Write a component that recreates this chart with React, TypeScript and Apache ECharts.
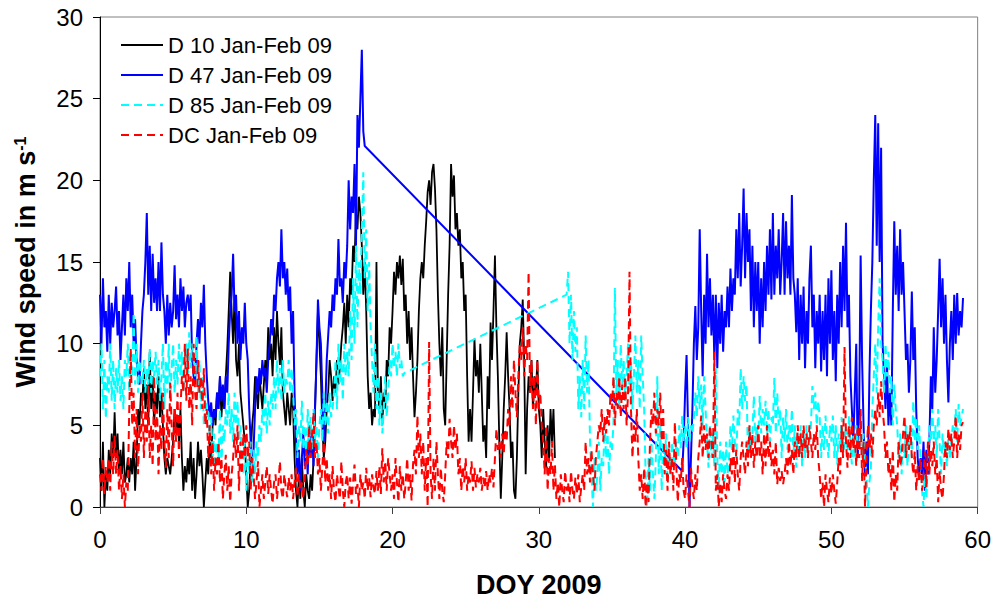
import React, { useEffect, useRef } from "react";
import * as echarts from "echarts";

// Sampling step of the hand-read series (days)
const STEP = 0.1;

const seriesNames = ["D 10 Jan-Feb 09", "D 47 Jan-Feb 09", "D 85 Jan-Feb 09", "DC Jan-Feb 09"];
const xAxisTitle = "DOY 2009";
const yAxisTitle = "Wind speed in m s";
const yAxisSup = "-1";

// D 10 : day 0.0 .. 31.1
const blackStart = 0;
const black = [
  3, 1, 4, 0, 2, 1, 3.5, 2, 4.5, 3,
  5.8, 3, 4.5, 2, 3.5, 2, 4, 1.5, 2, 3,
  1.5, 3, 2, 4, 1, 3, 6, 5, 7, 6.5,
  8.5, 6, 7.5, 5, 9.5, 6, 8, 5, 7, 6,
  8, 5.5, 7, 5, 3, 2, 3, 2.5, 2, 3,
  4, 6, 4.5, 5.5, 4, 6, 3, 1, 2.5, 1.5,
  3, 2, 4, 1, 3, 0.5, 2, 4, 2.5, 3.5,
  2, 0, 1.5, 3, 2, 4, 3, 5, 6, 5,
  7, 6, 8, 5.5, 7, 6, 8, 9.7, 12, 14.4,
  12, 10, 13, 9, 8, 10, 7, 6, 5, 4,
  2, 0, 1, 3, 5, 6, 8, 7, 6, 8,
  7, 6, 7.5, 9, 8, 11, 9, 10, 8, 11,
  9, 12, 10, 8.7, 11, 7, 6, 5, 7, 6,
  5, 7, 6, 3, 1, 0, 2, 0.5, 3, 1,
  0, 2, 1, 0.5, 2, 1, 3, 6, 9, 12,
  10, 8, 5, 3, 4, 6, 7, 9, 8, 6.5,
  8, 7, 9, 7.5, 8.5, 10, 11, 12.5, 10, 13,
  11, 14, 13, 16, 15, 18, 17, 19, 18, 16,
  13, 15, 12, 8, 6, 7, 5, 6, 5.5, 15,
  7, 6, 8, 5, 7, 6, 9, 8, 11, 10,
  12, 14.4, 13, 15, 14, 15.4, 13.6, 15.2, 12, 13,
  10, 12, 9, 11, 8, 5.5, 7, 9, 12, 14,
  15, 14, 16, 17.5, 19.3, 20, 18.5, 20.5, 21, 19.5,
  17, 13, 10, 8, 11, 6, 5, 9, 13, 16,
  21, 19, 20.3, 17, 18, 16, 17, 14, 15, 12,
  13, 8, 4, 6, 4, 7, 10.3, 8, 9, 7,
  10, 7, 4, 5, 3, 8, 6, 11.3, 9, 12,
  15.4, 11, 8, 4, 0.5, 3, 6, 8, 10.7, 8,
  6, 3, 4, 1, 0.5, 3, 7, 10, 11, 12.7,
  9, 2, 6, 8, 7, 9, 6, 8, 7, 9,
  6, 5, 3, 6, 4, 2.4, 5, 3, 6, 4,
  6, 3,
];

// D 47 : day 0.0 .. 18.1, then day 39.8 .. 59.0
const blueStartA = 0;
const blueA = [
  13, 10, 14, 11, 12, 9.5, 13, 10, 12.5, 11,
  12, 13.5, 10.5, 12, 9, 11, 13, 10.5, 14, 12,
  15, 11, 13, 10, 11.5, 9, 8, 7.5, 10, 12,
  13, 15, 18, 13, 16, 12, 15.5, 12.5, 14, 12,
  15, 12, 16.2, 13, 12, 10, 13, 10.5, 12.5, 11,
  12, 14.8, 11.5, 13, 11, 14, 12, 13.5, 11, 12.5,
  13, 12, 13, 9, 8, 7.5, 10, 11.5, 10, 12.5,
  11, 13.6, 10, 8, 6.5, 5.5, 6.4, 5, 6, 5.5,
  7, 6, 8, 6.5, 7.5, 6, 8, 7, 10, 12,
  13, 15.5, 12, 13, 10, 12, 9, 11, 10, 12.5,
  10, 9, 6, 4, 2, 3.5, 6, 8, 7, 8.5,
  7.5, 9, 8, 8.5, 7, 9, 10, 11.5, 10.5, 13,
  12, 14, 15, 13.5, 17, 14, 15, 13, 14.6, 12,
  13.5, 10, 12, 7, 4, 2, 3.5, 1, 3, 4.5,
  2.5, 4, 2, 5, 3, 4.5, 2.5, 6, 9, 12.7,
  11, 10, 7, 4, 6, 9, 10.5, 12, 11, 13,
  12, 14, 13, 16.4, 13.5, 14, 12.5, 15, 14, 16,
  20, 17, 19, 18, 21, 16, 24, 22, 25, 28,
  23, 22.1,
];
const blueStartB = 39.8;
const blueB = [
  2.2, 4,
  7, 9.3, 5, 0, 3, 6, 10, 12.3, 9, 11,
  17, 12, 8, 13, 10, 15.5, 11, 14, 10.5, 13,
  9, 13, 8.5, 12.5, 10, 13, 9.5, 12, 11, 13.5,
  11, 14.6, 12, 14, 13, 17, 14, 18, 13.5, 16,
  19.5, 14, 18, 15, 17, 12, 16, 11, 15, 12,
  15, 10, 14, 11, 15, 12, 16, 13, 17, 12.7,
  18, 13, 16, 14, 17, 13, 15, 18, 13, 17.5,
  14, 16, 13, 19.1, 14, 13, 10.7, 14, 9, 13,
  10, 13.5, 8.5, 12, 10, 14, 16, 11, 13, 8.5,
  12, 10, 13, 8.3, 12, 9, 13, 8, 14, 10,
  14.5, 9, 12, 7.7, 13, 10, 15, 11, 16, 12,
  17.4, 11, 13, 8, 6, 4, 7, 10, 3, 6,
  15.4, 9, 5, 2, 4, 2, 8, 12, 15, 20,
  24, 16, 23.5, 15, 22, 10, 8, 6, 9, 5,
  7, 5, 12, 17.5, 13, 16, 12, 17, 13, 15,
  12, 9, 10, 7, 9, 13.2, 9, 11, 6, 3,
  2, 3, 2, 4, 1, 3.5, 2, 4, 8, 6,
  11, 7, 9, 12, 15.2, 11, 14, 10, 13, 9,
  6.4, 10, 12, 9, 13, 10, 13.1, 10.5, 12, 11,
  12.8,
];

// D 85 : day 0.0 .. 20.8, then day 31.9 .. 59.0
const cyanStartA = 0;
const cyanA = [
  8, 10, 6, 9, 5.4, 8, 7, 10, 6.5, 9,
  6, 8.5, 7, 9, 6.5, 8, 6, 9, 8, 10,
  7, 9.5, 8, 11.9, 7.5, 10, 7, 9, 8, 7.5,
  9, 7, 8.5, 7.5, 9.7, 7, 9, 8, 9.5, 7.5,
  9, 6.5, 8, 10, 6, 9, 7, 10, 6.5, 8.5,
  10, 7, 9, 7.5, 10, 8, 9.5, 7, 9, 10,
  8, 10.7, 8.5, 10, 9, 8, 10.5, 7, 9, 6,
  8, 5, 7, 5.5, 6, 4, 5.5, 3, 4.5, 2,
  4, 3, 6, 2.5, 5, 4, 6, 5, 7, 4.5,
  6, 4, 7, 5, 6.5, 4, 5, 3, 2, 4,
  1, 3, 2, 4, 1.5, 3.5, 2, 4, 3, 5,
  4, 6, 5, 7, 4.5, 6.5, 5, 7, 6, 8,
  6, 9, 7, 8.5, 6.5, 9, 7, 8, 7.5, 9,
  7, 8.5, 7, 5, 6, 3, 5, 4, 6.5, 3.5,
  5, 3, 6, 4, 5.5, 3.5, 6, 4, 5, 3,
  5, 6, 4, 7, 5, 6.5, 4.5, 7, 5.5, 6,
  7, 9, 6, 10, 7.5, 9, 6.5, 10, 8, 9.5,
  8, 12, 9, 14, 10, 16, 11, 15, 13, 17,
  20.5, 14, 17, 12, 15, 11, 9, 7, 10, 6,
  8, 5, 7, 4.5, 6, 8, 5.5, 7, 9, 8,
  10, 8.5, 9.5, 8, 10, 8.5, 9, 8, 8.2,
];
const cyanStartB = 31.9;
const cyanB = [
  13,
  14.4, 10, 13, 9, 12, 9.5, 11, 6, 8, 5.5,
  9, 6, 10.5, 7, 9, 4, 2, 0, 3, 1,
  2, 4, 1, 3, 2.5, 5, 3, 4.5, 2, 4,
  3.5, 5, 13.4, 7, 9, 6, 10, 7.5, 9, 6.5,
  8, 10, 7, 9, 6, 8, 10.5, 7, 9, 6,
  10.5, 8, 6, 2, 0, 3, 1, 4, 2, 0.5,
  3, 8, 2, 5, 1, 4, 2.5, 4.5, 1.5, 3.5,
  2, 4, 3, 2.5, 4, 3, 5, 3.6, 5.6, 4,
  5, 3.6, 5.5, 4, 5, 4.5, 5.5, 7, 5.5, 8,
  6, 7.5, 5, 8, 6, 4, 2.4, 5, 3, 4.5,
  2.5, 8.5, 3, 1, 4, 2, 3.5, 1.5, 4, 2,
  3, 5, 3.5, 5.6, 4, 3, 6, 5, 8.5, 6,
  8, 6.5, 7.5, 3, 5, 3.5, 4.5, 6.8, 4, 5,
  4, 6.8, 4.5, 6, 5, 6.5, 4.5, 6, 4, 5.5,
  5, 7.9, 4.5, 7, 5, 6, 3, 5.5, 4, 6,
  3.5, 5, 4, 6, 3, 5, 2.4, 4.5, 3, 5,
  2.5, 4.5, 3, 5, 3.5, 4, 5, 7.4, 6, 7,
  5, 6.5, 5.5, 3, 5, 3.5, 5.6, 4, 3, 5,
  4, 5.6, 3, 5, 2.6, 4.5, 3.5, 5.5, 3, 4,
  5, 3, 5.6, 4, 2.6, 4.5, 3, 5, 4, 3.5,
  5, 3, 4.5, 3, 2, 0, 1.5, 2.4, 6, 8,
  10, 7, 11, 14, 10, 9, 7, 10, 8, 9.5,
  7, 8, 5, 7.5, 6, 5, 3, 4.5, 2, 4,
  3, 5, 2.5, 4, 5, 3, 6.5, 4, 5.5, 3.5,
  5, 3, 1, 0, 2, 0.5, 3, 5, 4, 6,
  4, 5, 3, 6, 4, 2, 4.5, 3, 4, 2.5,
  4.5, 3, 4, 5, 4.5, 6, 4, 6.3, 5, 5.5,
  6,
];

// DC : day 0.0 .. 59.0
const redStart = 0;
const red = [
  2, 1, 3, 0.8, 2.5, 1.5, 3, 1, 4, 2,
  4.4, 2, 3.5, 1, 2.5, 0.5, 2, 0, 1.5, 1,
  6, 9.7, 5, 7, 3, 6, 2, 5, 4, 7,
  3, 6, 4, 7.4, 3, 5, 2.5, 8, 4, 6,
  2, 5, 3.5, 7, 4, 2.4, 6, 3, 7.6, 5,
  2.5, 6, 4, 7, 3, 6, 8, 7, 10, 6.5,
  9.7, 6, 8, 5, 10, 7, 6, 9, 7, 8,
  6, 8.5, 5, 6, 3, 5, 2, 4, 1, 3,
  2, 4, 1.5, 3, 0.5, 2, 3.2, 1, 2.5, 0.3,
  2, 3, 4.5, 3, 5, 1, 4, 2, 4.5, 3,
  5, 3, 4, 1, 3, 2, 0.5, 1.5, 2.8, 0,
  1, 2, 0.5, 1.5, 2.5, 0.8, 2, 1, 0.2, 1.5,
  2, 0.5, 1.5, 2.8, 1, 0.5, 2, 1.2, 0.6, 1.8,
  1, 2, 0.5, 1.5, 2.4, 0.6, 2, 1, 1.5, 0.5,
  2, 3.5, 2.5, 5, 3, 4.5, 5.8, 3, 4, 2,
  3, 1, 2.5, 4, 1.5, 3, 1, 2, 0.5, 2.5,
  1, 0.3, 2, 1.2, 0.5, 2.8, 1, 0, 1.5, 2,
  0.5, 1.8, 0.2, 1.5, 2.6, 0.8, 1.4, 0, 2, 1,
  1.5, 0.5, 2.4, 1, 1.8, 0.6, 2, 1.2, 0.8, 2.2,
  1, 2.5, 0.8, 3.6, 1.5, 2.8, 1, 3, 2, 1,
  2, 0.5, 3, 1.5, 0.3, 2.5, 1, 2, 0.5, 1.5,
  3, 1, 2, 0.4, 2.6, 3.5, 2, 5.6, 3, 4.5,
  2, 4, 1, 3, 0, 10.1, 2, 0.5, 3, 1,
  4, 2, 0.5, 2.4, 1, 0.3, 2, 4, 3, 5.4,
  4, 3, 5, 3.5, 4.5, 2, 3, 1, 2.5, 1.5,
  3, 1, 2, 1.5, 2.8, 1, 2.4, 1.2, 2, 1.5,
  2.4, 1, 1.8, 1.2, 2.2, 1, 2, 1.5, 2.4, 1.2,
  3, 4.8, 3.5, 4, 3, 4.5, 3.2, 4.8, 4, 6,
  5, 8, 6, 9, 7, 5.5, 8, 10, 9, 11,
  8, 10, 9, 14.4, 7, 9, 6, 8, 5, 9,
  6, 7, 5, 4, 2, 5, 1, 3, 2, 4,
  1, 2.6, 0.5, 1.5, 0, 2, 1, 0.3, 2.2, 1,
  1.5, 0.3, 2.2, 1, 0.5, 1.8, 0.8, 2, 0.3, 1.2,
  2, 1, 4, 2, 3, 1.5, 3.5, 2, 1, 3,
  4, 5, 4.5, 6, 4, 5.5, 4.5, 6, 5, 7,
  6, 8, 5, 7, 6, 8, 5.5, 7.5, 6, 8,
  5, 7, 14.4, 6, 3, 5, 4, 6, 3, 1,
  2, 0.5, 2.4, 0, 1.5, 0.3, 4, 6, 5, 7,
  4.5, 6, 5, 7, 4, 6, 2, 3.5, 1, 4,
  2, 3, 1, 5.2, 2.5, 0.3, 2, 1.5, 3, 1,
  0.5, 2, 1, 0, 2.4, 1.2, 0.5, 2, 1, 3,
  4, 5.6, 3, 5, 3.5, 4.5, 3, 5, 4, 3,
  9.5, 1, 2, 0, 1.5, 0.3, 2, 1, 0.5, 2,
  1, 3, 2, 4, 1.5, 3.5, 2, 1, 3, 4,
  3, 2, 4, 2.5, 5, 3, 4.5, 2.4, 4, 3,
  5, 3, 4, 2, 4.5, 2.5, 5, 3, 4, 2.5,
  3.5, 2, 4, 1.4, 2.4, 1.6, 2.2, 1.4, 2, 3,
  2, 4, 2.5, 3.5, 2, 4, 3, 5, 3, 4.5,
  3, 5, 3.5, 4.5, 3, 5, 4, 3, 4.5, 3.5,
  5, 3, 2, 0.5, 1.5, 0, 2, 1, 0.3, 1.8,
  0.8, 2, 1, 0.2, 1.5, 3, 2, 5, 3, 9.8,
  4, 2.4, 5, 3, 5.5, 3.5, 4.5, 2.5, 5, 3,
  6, 1.6, 4, 0, 3, 5, 3.5, 4.5, 3, 5,
  6, 5, 7, 5.5, 7.7, 6, 5, 3, 4, 2,
  3, 1, 3.5, 0.3, 2, 1, 4, 2.5, 3, 4.5,
  5.6, 3, 4.5, 3.5, 5, 3, 2, 3.4, 1, 2.5,
  1.5, 3, 1, 2, 3.4, 1.2, 4, 2, 3.5, 2.5,
  4, 2, 3, 0.3, 2.2, 1, 0.5, 2, 4, 3,
  4.8, 3.5, 4.5, 3, 4, 5.6, 3, 4.5, 3.5, 5,
  5.2,
];

const xMin = 0, xMax = 60, xInterval = 10;
const yMin = 0, yMax = 30, yInterval = 5;

function toPairs(start: number, values: number[]): [number, number][] {
  return values.map((v, i) => [Math.round((start + i * STEP) * 100) / 100, v]);
}

const FONT = "'Liberation Sans', Arial, sans-serif";

export default function App() {
  const ref = useRef<HTMLDivElement>(null);
  useEffect(() => {
    if (!ref.current) return;
    const chart = echarts.init(ref.current, null, { renderer: "svg" });
    const lineSeries = (name: string, data: [number, number][], color: string, width: number, dashed: boolean) => ({
      name,
      type: "line",
      data,
      symbol: "none",
      showSymbol: false,
      smooth: false,
      lineStyle: { color, width, type: dashed ? [8, 5] : "solid" },
      itemStyle: { color },
      emphasis: { disabled: true },
      z: 2,
    });
    chart.setOption({
      animation: false,
      backgroundColor: "#ffffff",
      textStyle: { fontFamily: FONT },
      grid: {
        left: 100,
        right: 16,
        top: 17,
        bottom: 94,
        show: true,
        borderColor: "#808080",
        borderWidth: 1,
        backgroundColor: "transparent",
      },
      legend: {
        orient: "vertical",
        left: 115,
        top: 29,
        itemWidth: 42,
        itemHeight: 14,
        itemGap: 8,
        itemStyle: { opacity: 0, borderWidth: 0 },
        textStyle: { fontSize: 22, color: "#000", fontFamily: FONT, lineHeight: 22 },
        data: seriesNames,
      },
      xAxis: {
        type: "value",
        min: xMin,
        max: xMax,
        interval: xInterval,
        name: xAxisTitle,
        nameLocation: "middle",
        nameGap: 64,
        nameTextStyle: { fontSize: 27, fontWeight: "bold", color: "#000", fontFamily: FONT },
        axisLine: { show: true, lineStyle: { color: "#404040", width: 1 } },
        axisTick: { show: true, inside: false, length: 7, lineStyle: { color: "#404040" } },
        axisLabel: { fontSize: 24, color: "#000", margin: 20, fontFamily: FONT },
        splitLine: { show: false },
      },
      yAxis: {
        type: "value",
        min: yMin,
        max: yMax,
        interval: yInterval,
        name: `{a|${yAxisTitle}}{b|${yAxisSup}}`,
        nameLocation: "middle",
        nameGap: 60,
        nameTextStyle: {
          fontSize: 27,
          fontWeight: "bold",
          color: "#000",
          fontFamily: FONT,
          rich: {
            a: { fontSize: 27, fontWeight: "bold", color: "#000", fontFamily: FONT, lineHeight: 28 },
            b: { fontSize: 16, fontWeight: "bold", color: "#000", fontFamily: FONT, verticalAlign: "top", lineHeight: 16 },
          },
        },
        axisLine: { show: true, lineStyle: { color: "#000", width: 1 } },
        axisTick: { show: true, inside: false, length: 7, lineStyle: { color: "#000" } },
        axisLabel: { fontSize: 24, color: "#000", margin: 17, fontFamily: FONT },
        splitLine: { show: false },
      },
      series: [
        lineSeries(seriesNames[0], toPairs(blackStart, black), "#000000", 1.8, false),
        lineSeries(
          seriesNames[1],
          [...toPairs(blueStartA, blueA), ...toPairs(blueStartB, blueB)],
          "#0000ff",
          2,
          false
        ),
        lineSeries(
          seriesNames[2],
          [...toPairs(cyanStartA, cyanA), ...toPairs(cyanStartB, cyanB)],
          "#00ffff",
          2,
          true
        ),
        lineSeries(seriesNames[3], toPairs(redStart, red), "#ff0000", 2, true),
      ],
    });
    return () => chart.dispose();
  }, []);
  return (
    <div
      ref={ref}
      style={{ position: "fixed", left: 0, top: 0, width: 994, height: 603, background: "#fff" }}
    />
  );
}
